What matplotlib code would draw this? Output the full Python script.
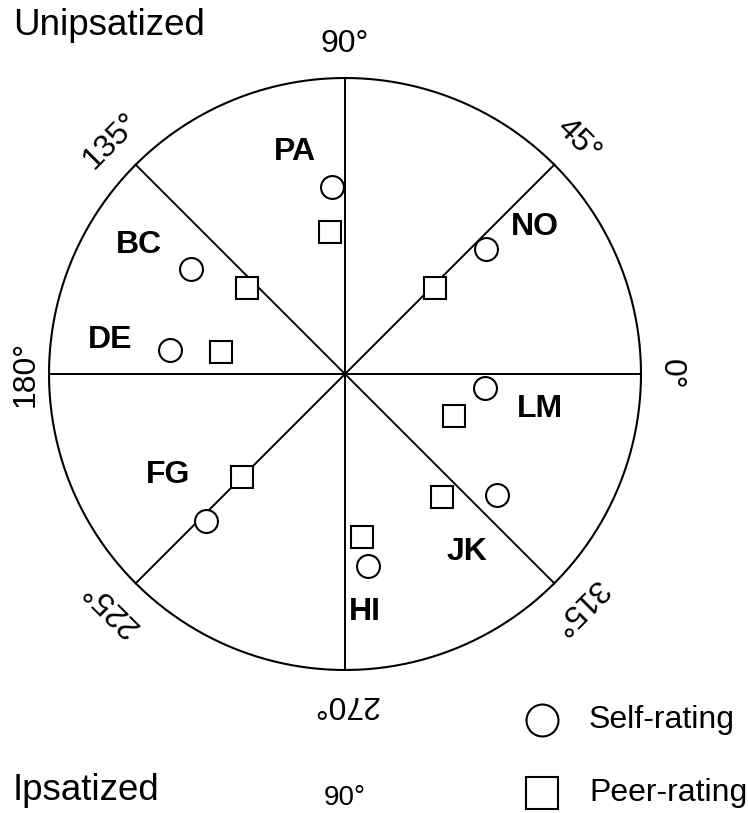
import numpy as np
import matplotlib.pyplot as plt

# people and their rating positions (angle in degrees, vector length relative to circle radius)
names = ['PA', 'NO', 'BC', 'DE', 'FG', 'HI', 'JK', 'LM']
self_angle = [94.0, 41.6, 145.7, 172.2, 226.6, 276.8, 321.5, 354.3]
self_len = [0.633, 0.637, 0.630, 0.597, 0.684, 0.653, 0.656, 0.475]
peer_angle = [96.0, 43.7, 138.7, 169.9, 225.0, 276.0, 308.3, 338.9]
peer_len = [0.482, 0.420, 0.440, 0.425, 0.492, 0.554, 0.529, 0.395]

# where each name label sits (x, y in circle-radius units)
label_x = [-0.169, 0.642, -0.696, -0.794, -0.598, 0.068, 0.412, 0.659]
label_y = [0.750, 0.497, 0.436, 0.115, -0.341, -0.804, -0.601, -0.118]

sector_angles = [0, 45, 90, 135, 180, 225, 270, 315]
sector_labels = ['0°', '45°', '90°', '135°', '180°', '225°', '270°', '315°']
label_dist = [1.10, 1.115, 1.115, 1.115, 1.08, 1.115, 1.115, 1.115]

W, H = 748, 813
cx, cy, R = 345, 374, 296

plt.rcParams['font.family'] = ['Liberation Sans', 'DejaVu Sans']

fig = plt.figure(figsize=(W / 100, H / 100), dpi=100)
ax = fig.add_axes([0, 0, 1, 1])
ax.set_xlim(-cx / R, (W - cx) / R)
ax.set_ylim(-(H - cy) / R, cy / R)
ax.set_aspect('equal')
ax.axis('off')

# outer circle and the four diameters
t = np.linspace(0, 2 * np.pi, 400)
ax.plot(np.cos(t), np.sin(t), color='black', lw=1.5)
for a in [0, 45, 90, 135]:
    r = np.deg2rad(a)
    ax.plot([-np.cos(r), np.cos(r)], [-np.sin(r), np.sin(r)], color='black', lw=1.4)

# degree labels, rotated along the circle
for a, lab, d in zip(sector_angles, sector_labels, label_dist):
    r = np.deg2rad(a)
    ax.text(d * np.cos(r), d * np.sin(r), lab, fontsize=23,
            rotation=a - 90, rotation_mode='anchor', ha='center', va='center')

sa = np.deg2rad(self_angle)
pa = np.deg2rad(peer_angle)
ax.plot(np.array(self_len) * np.cos(sa), np.array(self_len) * np.sin(sa), 'o',
        ms=16.5, mfc='white', mec='black', mew=1.5, ls='none')
ax.plot(np.array(peer_len) * np.cos(pa), np.array(peer_len) * np.sin(pa), 's',
        ms=15.8, mfc='white', mec='black', mew=1.5, ls='none')

for n, x, y in zip(names, label_x, label_y):
    ax.text(x, y, n, fontsize=23, fontweight='bold', ha='center', va='center')

# titles (the next panel's 90° peeks in at the bottom)
fig.text(13 / W, 1 - 35 / H, 'Unipsatized', fontsize=26.5, ha='left', va='baseline')
fig.text(13 / W, 1 - 800 / H, 'Ipsatized', fontsize=26.5, ha='left', va='baseline')
fig.text(cx / W, 1 - 811 / H, '90°', fontsize=20, ha='center', va='bottom')

# legend
fig.lines.append(plt.Line2D([542 / W], [1 - 720 / H], marker='o', ms=23, mfc='white',
                            mec='black', mew=1.5, transform=fig.transFigure))
fig.lines.append(plt.Line2D([542 / W], [1 - 793 / H], marker='s', ms=23, mfc='white',
                            mec='black', mew=1.5, transform=fig.transFigure))
fig.text(589 / W, 1 - 720 / H, 'Self-rating', fontsize=23, ha='left', va='center')
fig.text(589 / W, 1 - 793 / H, 'Peer-rating', fontsize=23, ha='left', va='center')

plt.savefig('out.png', dpi=100)
